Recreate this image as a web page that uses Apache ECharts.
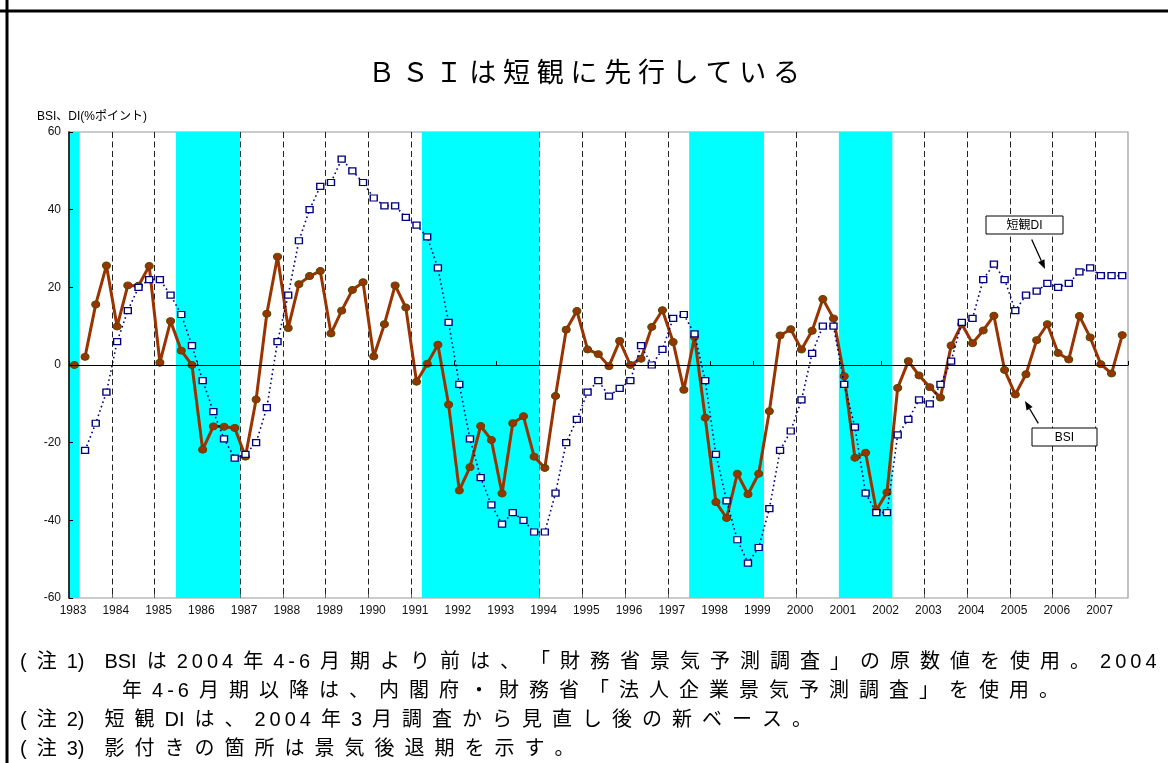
<!DOCTYPE html>
<html lang="ja">
<head>
<meta charset="utf-8">
<title>BSIは短観に先行している</title>
<script src="https://cdn.jsdelivr.net/npm/echarts@6/dist/echarts.min.js"></script>
<style>
html,body{margin:0;padding:0;background:#fff;overflow:hidden}
#chart{width:1168px;height:763px}
</style>
</head>
<body>
<div id="chart"></div>
<script>
// ---------------- data ----------------
const startYear = 1983;                 // first quarter = 1983 Q1
const yearTicks = [1983,1984,1985,1986,1987,1988,1989,1990,1991,1992,1993,1994,1995,
                   1996,1997,1998,1999,2000,2001,2002,2003,2004,2005,2006,2007];
const yTicks = [-60,-40,-20,0,20,40,60];

// BSI (quarterly, from 1983 Q1)
const bsiValues = [
  0, 2.1, 15.6, 25.6,
  9.9, 20.5, 20.4, 25.5,
  0.6, 11.3, 3.7, 0,
  -21.8, -15.8, -15.9, -16.2,
  -23.6, -8.9, 13.2, 27.9,
  9.5, 20.8, 22.9, 24.2,
  8.1, 14.0, 19.3, 21.3,
  2.2, 10.5, 20.5, 14.8,
  -4.3, 0.3, 5.2, -10.2,
  -32.3, -26.3, -15.7, -19.3,
  -33.1, -15.0, -13.2, -23.6,
  -26.5, -8.0, 9.1, 13.9,
  4.0, 2.8, -0.3, 6.2,
  0.0, 1.6, 9.8, 14.1,
  5.9, -6.4, 7.2, -13.6,
  -35.3, -39.4, -28.0, -33.3,
  -28.0, -11.9, 7.6, 9.2,
  4.0, 8.8, 17.0, 12.0,
  -2.9, -23.9, -22.6, -37.4,
  -32.8, -5.9, 1.0, -2.7,
  -5.7, -8.4, 5.0, 10.5,
  5.6, 8.9, 12.7, -1.3,
  -7.6, -2.4, 6.4, 10.5,
  3.1, 1.4, 12.6, 7.1,
  0.2, -2.2, 7.7
];
// the first BSI point is drawn on its own (not joined to the next one)
const bsiUnjoinedHead = 1;

// 短観DI (quarterly, from 1983 Q1; Q1 has no value)
const diValues = [
  null, -22, -15, -7,
  6, 14, 20, 22,
  22, 18, 13, 5,
  -4, -12, -19, -24,
  -23, -20, -11, 6,
  18, 32, 40, 46,
  47, 53, 50, 47,
  43, 41, 41, 38,
  36, 33, 25, 11,
  -5, -19, -29, -36,
  -41, -38, -40, -43,
  -43, -33, -20, -14,
  -7, -4, -8, -6,
  -4, 5, 0, 4,
  12, 13, 8, -4,
  -23, -35, -45, -51,
  -47, -37, -22, -17,
  -9, 3, 10, 10,
  -5, -16, -33, -38,
  -38, -18, -14, -9,
  -10, -5, 1, 11,
  12, 22, 26, 22,
  14, 18, 19, 21,
  20, 21, 24, 25,
  23, 23, 23
];

// recession periods (shaded), in years
const recessionStart = [1983.0, 1985.5, 1991.25, 1997.5, 2001.0];
const recessionEnd   = [1983.25, 1987.0, 1994.0, 1999.25, 2002.25];

// texts
const titleText = 'ＢＳＩは短観に先行している';
const yAxisName = 'BSI、DI(%ポイント)';
const labelDI = '短観DI';
const labelBSI = 'BSI';
const noteLines = [
  '(注1) BSIは2004年4-6月期より前は、「財務省景気予測調査」の原数値を使用。2004',
  '年4-6月期以降は、内閣府・財務省「法人企業景気予測調査」を使用。',
  '(注2) 短観DIは、2004年3月調査から見直し後の新ベース。',
  '(注3) 影付きの箇所は景気後退期を示す。'
];

// ---------------- helpers ----------------
const qx = i => startYear + (i + 0.5) / 4;
const bsiData = bsiValues.map((v, i) => [qx(i), v]);
const diData = diValues.map((v, i) => [qx(i), v]);
const areas = recessionStart.map((s, i) => [{ xAxis: s }, { xAxis: recessionEnd[i] }]);

const FONT = '"Liberation Sans","Noto Sans CJK JP",sans-serif';
const CJK = '"Noto Sans CJK JP","Liberation Sans",sans-serif';

function isWide(ch) {
  return /[\u3000-\u30ff\u4e00-\u9fff\uff01-\uff60]/.test(ch);
}
// emulate letter spacing of the original document
function spaceOut(s) {
  const a = Array.from(s);
  let out = '';
  for (let i = 0; i < a.length; i++) {
    const c = a[i];
    out += (c === ' ') ? '\u2002\u2002' : c;
    if (i < a.length - 1) {
      const d = a[i + 1];
      if (c === ' ' || d === ' ') continue;
      if (isWide(c) || isWide(d)) out += '\u2002';
      else if (/[0-9\-]/.test(c) && /[0-9\-]/.test(d)) out += '\u2009';
    }
  }
  return out;
}

function arrow(x1, y1, x2, y2) {
  const dx = x2 - x1, dy = y2 - y1, L = Math.hypot(dx, dy);
  const ux = dx / L, uy = dy / L, hl = 9, hw = 3.5;
  const bx = x2 - ux * hl, by = y2 - uy * hl;
  return [
    { type: 'line', z: 100, shape: { x1, y1, x2: bx, y2: by }, style: { stroke: '#000', lineWidth: 1.3 } },
    { type: 'polygon', z: 100, shape: { points: [[x2, y2], [bx - uy * hw, by + ux * hw], [bx + uy * hw, by - ux * hw]] }, style: { fill: '#000' } }
  ];
}

const xMin = yearTicks[0], xMax = 2007.76;

const lineCommonBSI = {
  type: 'line', z: 3, symbol: 'circle', symbolSize: [8, 7],
  lineStyle: { color: '#993300', width: 3 },
  itemStyle: { color: '#993300', borderColor: '#4d4d00', borderWidth: 1 },
  emphasis: { disabled: true }
};

const noteY = [662, 691, 720, 749];
const noteX = [20, 122, 20, 20];

const option = {
  animation: false,
  backgroundColor: '#fff',
  title: {
    text: spaceOut.length ? Array.from(titleText).join('\u2005') : titleText,
    left: 'center', top: 53,
    textStyle: { fontFamily: CJK, fontSize: 27, fontWeight: 'normal', color: '#000' }
  },
  grid: { left: 69, top: 132, width: 1059, height: 466, show: true, borderColor: '#999', borderWidth: 1.2, backgroundColor: 'transparent' },
  xAxis: [
    {
      type: 'value', min: xMin, max: xMax, interval: 1,
      axisLine: { show: false, onZero: false },
      axisTick: { show: true, inside: true, length: 4, lineStyle: { color: '#666' } },
      axisLabel: {
        fontFamily: FONT, fontSize: 12, color: '#111', margin: 7, padding: [0, 0, 0, 8],
        formatter: v => (yearTicks.indexOf(v) >= 0 ? String(v) : ''),
        showMaxLabel: false
      },
      splitLine: { show: true, showMinLine: false, showMaxLine: false, lineStyle: { color: '#222', width: 1, type: [6, 3.5] } }
    },
    {
      type: 'value', min: xMin, max: xMax, interval: 1, z: 5, position: 'bottom',
      axisLine: { show: true, onZero: true, onZeroAxisIndex: 0, lineStyle: { color: '#000', width: 1 } },
      axisTick: { show: true, inside: true, length: 4, lineStyle: { color: '#000' } },
      axisLabel: { show: false },
      splitLine: { show: false }
    }
  ],
  yAxis: {
    type: 'value', min: yTicks[0], max: yTicks[yTicks.length - 1], interval: 20, z: 5,
    axisLine: { show: true, lineStyle: { color: '#000', width: 1.5 } },
    axisTick: { show: true, inside: true, length: 4, lineStyle: { color: '#000' } },
    axisLabel: { fontFamily: FONT, fontSize: 12, color: '#111', margin: 8 },
    splitLine: { show: false }
  },
  series: [
    Object.assign({}, lineCommonBSI, {
      name: 'BSI', data: bsiData.slice(bsiUnjoinedHead),
      markArea: { silent: true, z: 1, itemStyle: { color: '#00ffff', borderWidth: 0 }, data: areas }
    }),
    Object.assign({}, lineCommonBSI, { name: 'BSI', data: bsiData.slice(0, bsiUnjoinedHead) }),
    {
      name: '短観DI', type: 'line', z: 4, data: diData,
      symbol: 'rect', symbolSize: [7, 6],
      lineStyle: { color: '#000080', width: 1.6, type: [1.6, 3] },
      itemStyle: { color: '#fff', borderColor: '#000080', borderWidth: 1.3 },
      emphasis: { disabled: true }
    }
  ],
  graphic: [].concat(
    [
      { type: 'line', z: 100, shape: { x1: 7, y1: 0, x2: 7, y2: 763 }, style: { stroke: '#000', lineWidth: 3 } },
      { type: 'line', z: 100, shape: { x1: 0, y1: 11, x2: 1168, y2: 11 }, style: { stroke: '#000', lineWidth: 3 } },
      { type: 'text', z: 100, x: 37, y: 117, style: { text: yAxisName, font: '12px ' + FONT, fill: '#000', align: 'left', verticalAlign: 'middle' } },
      { type: 'rect', z: 100, shape: { x: 986, y: 216, width: 77, height: 18 }, style: { fill: '#fff', stroke: '#000', lineWidth: 1 } },
      { type: 'text', z: 101, x: 1024.5, y: 225.5, style: { text: labelDI, font: '12px ' + FONT, fill: '#000', align: 'center', verticalAlign: 'middle' } },
      { type: 'rect', z: 100, shape: { x: 1032, y: 428, width: 65, height: 18 }, style: { fill: '#fff', stroke: '#000', lineWidth: 1 } },
      { type: 'text', z: 101, x: 1064.5, y: 437.5, style: { text: labelBSI, font: '12px ' + FONT, fill: '#000', align: 'center', verticalAlign: 'middle' } }
    ],
    arrow(1031.7, 239.5, 1045, 269),
    arrow(1038.3, 423.3, 1025, 401),
    noteLines.map((t, i) => ({
      type: 'text', z: 100, x: noteX[i], y: noteY[i],
      style: { text: spaceOut(t), font: '20px ' + FONT, fill: '#000', align: 'left', verticalAlign: 'middle' }
    }))
  )
};

const chart = echarts.init(document.getElementById('chart'), null, { renderer: 'canvas', width: 1168, height: 763 });
chart.setOption(option);
</script>
</body>
</html>
